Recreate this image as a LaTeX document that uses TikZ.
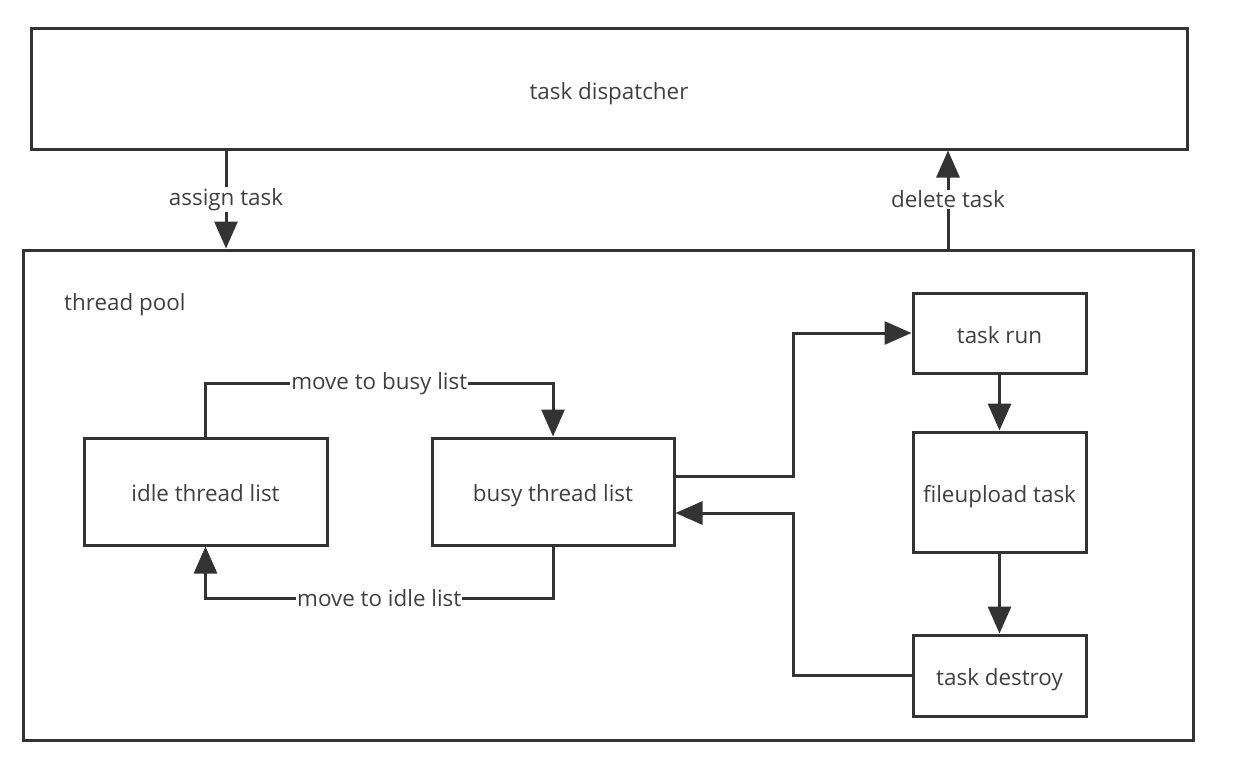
\documentclass[tikz,border=0pt]{standalone}
\usepackage{fontspec}
\setmainfont{Open Sans}
\usetikzlibrary{arrows.meta}
\definecolor{ln}{HTML}{333333}
\definecolor{tx}{HTML}{404040}
\newcommand{\bt}[1]{\raisebox{-10pt}[0pt][0pt]{#1}}
\begin{document}
\begin{tikzpicture}[x=1pt,y=-1pt,
  box/.style={draw=ln,line width=3pt,rectangle,inner sep=0pt,text=tx,font=\fontsize{22.4}{26}\selectfont},
  arr/.style={draw=ln,line width=3pt,-{Triangle[length=27pt,width=23pt]}},
  lbl/.style={fill=white,text=tx,inner sep=1pt,font=\fontsize{22.4}{26}\selectfont}]
\useasboundingbox[fill=white] (0,0) rectangle (1241,768);
\node[box,minimum width=1156pt,minimum height=120pt] (disp) at (609,89) {\bt{task dispatcher}};
\node[box,minimum width=1170pt,minimum height=490pt] (pool) at (608,495) {};
\node[text=tx,anchor=west,inner sep=0pt,font=\fontsize{22.4}{26}\selectfont] (pooltxt) at (64,305) {thread pool};
\node[box,minimum width=243pt,minimum height=107pt] (idle) at (205.5,491.5) {\bt{idle thread list}};
\node[box,minimum width=242pt,minimum height=107pt] (busy) at (553,491.5) {\bt{busy thread list}};
\node[box,minimum width=173pt,minimum height=80pt] (run) at (999.5,333) {\bt{task run}};
\node[box,minimum width=173pt,minimum height=120pt] (upload) at (999.5,492) {\bt{fileupload task}};
\node[box,minimum width=173pt,minimum height=81pt] (destroy) at (999.5,675.5) {\bt{task destroy}};
\coordinate (ax) at (226,0);
\coordinate (dx) at (948,0);
\coordinate (bx) at (793,0);
\draw[arr] (disp.south -| ax) -- node[lbl]{assign task} (pool.north -| ax);
\draw[arr] (pool.north -| dx) -- node[lbl]{delete task} (disp.south -| dx);
\draw[arr] (idle.north) -- ++(0,-53) -| node[lbl,pos=0.25]{move to busy list} (busy.north);
\draw[arr] (busy.south) -- ++(0,52) -| node[lbl,pos=0.25]{move to idle list} (idle.south);
\draw[arr] ([yshift=15.5pt]busy.east) -- ([yshift=15.5pt]busy.east -| bx) |- (run.west);
\draw[arr] (destroy.west) -- (destroy.west -| bx) |- ([yshift=-21.5pt]busy.east);
\draw[arr] (run.south) -- (upload.north);
\draw[arr] (upload.south) -- (destroy.north);
\end{tikzpicture}
\end{document}
